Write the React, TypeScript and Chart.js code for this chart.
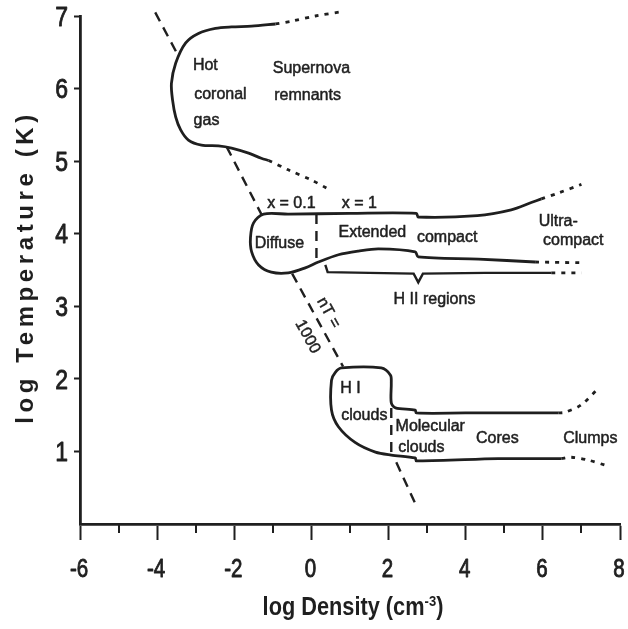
import React, { useEffect, useRef } from "react";
import { Chart, registerables } from "chart.js";

Chart.register(...registerables);

// ---------- axis ticks ----------
const xMajorTicks = [-6, -4, -2, 0, 2, 4, 6, 8];
const xMinorTicks = [-5, -3, -1, 1, 3, 5, 7];
const yTickValues = [1, 2, 3, 4, 5, 6, 7];

// ---------- nT = 1000 line (dashed, in pieces) ----------
const nT1X = [-4.05, -3.45];
const nT1Y = [7.05, 6.45];
const nT2X = [-2.2, -1.28];
const nT2Y = [5.2, 4.25];
const nT3X = [-0.5, 0.82];
const nT3Y = [3.45, 2.17];
const nT4X = [2.2, 2.72];
const nT4Y = [0.85, 0.25];

// ---------- hot coronal gas ----------
const hotX = [-0.93, -1.55, -2.07, -2.49, -2.93, -3.26, -3.52, -3.63, -3.6, -3.52, -3.39, -3.19, -2.85, -2.41, -2.07, -1.63, -1.3, -1.11];
const hotY = [6.89, 6.86, 6.85, 6.83, 6.76, 6.63, 6.35, 6.07, 5.84, 5.61, 5.43, 5.29, 5.22, 5.21, 5.18, 5.11, 5.04, 5.01];
const snrTopX = [-0.93, -0.5, 0.1, 0.8];
const snrTopY = [6.89, 6.93, 7.0, 7.06];
const snrBotX = [-1.11, -0.6, 0.0, 0.39];
const snrBotY = [5.01, 4.88, 4.74, 4.63];

// ---------- H II regions ----------
const hiiX = [5.96, 5.7, 5.18, 4.3, 2.77, 2.72, 1.0, -0.6, -1.24, -1.5, -1.58, -1.55, -1.37, -1.04, -0.6, -0.16, 0.18, 0.7, 1.22, 1.74, 2.69, 2.77, 4.33, 5.8];
const hiiY = [4.48, 4.43, 4.33, 4.25, 4.23, 4.28, 4.28, 4.27, 4.27, 4.15, 3.95, 3.75, 3.57, 3.47, 3.46, 3.53, 3.61, 3.71, 3.76, 3.79, 3.75, 3.68, 3.65, 3.61];
const ucTopX = [5.96, 6.4, 7.0];
const ucTopY = [4.48, 4.56, 4.68];
const ucBotX = [5.8, 7.0];
const ucBotY = [3.61, 3.6];
const xSplitX = [0.13, 0.13];
const xSplitY = [4.27, 3.59];
const braceX = [0.36, 0.42, 1.5, 2.65, 2.77, 2.89, 4.5, 6.22];
const braceY = [3.57, 3.47, 3.46, 3.45, 3.33, 3.45, 3.46, 3.46];
const braceExtX = [6.22, 7.0];
const braceExtY = [3.46, 3.46];

// ---------- H I / molecular clouds ----------
const hiX = [6.4, 3.99, 2.72, 2.69, 2.18, 2.07, 2.07, 2.05, 1.81, 0.78, 0.62, 0.52, 0.52, 0.7, 1.14, 1.66, 2.07, 2.69, 2.72, 4.84, 6.48];
const hiY = [1.53, 1.53, 1.53, 1.57, 1.6, 1.67, 1.94, 2.05, 2.15, 2.15, 2.09, 1.98, 1.57, 1.34, 1.12, 0.99, 0.95, 0.91, 0.87, 0.9, 0.9];
const clumpTopX = [6.4, 6.58, 6.99, 7.44];
const clumpTopY = [1.53, 1.54, 1.64, 1.87];
const clumpBotX = [6.48, 6.74, 7.18, 7.62];
const clumpBotY = [0.9, 0.92, 0.88, 0.81];
const molSplitX = [2.07, 2.07];
const molSplitY = [1.6, 0.95];

// ---------- labels (text, anchor in data units, angle in degrees) ----------
const labelTexts = ["Hot", "coronal", "gas", "Supernova", "remnants", "x = 0.1", "x = 1", "Diffuse", "Extended", "compact", "Ultra-", "compact", "H II regions", "nT =", "1000", "H I", "clouds", "Molecular", "clouds", "Cores", "Clumps"];
const labelX = [-2.75, -2.36, -2.72, 0.0, -0.1, -0.52, 1.24, -0.83, 1.58, 3.52, 6.4, 6.79, 3.19, 0.44, -0.1, 1.01, 1.37, 3.08, 2.85, 4.82, 7.23];
const labelY = [6.32, 5.92, 5.56, 6.28, 5.91, 4.42, 4.42, 3.87, 4.01, 3.95, 4.17, 3.91, 3.09, 2.91, 2.58, 1.87, 1.5, 1.34, 1.05, 1.17, 1.18];
const labelAngle = [0, 0, 0, 0, 0, 0, 0, 0, 0, 0, 0, 0, 0, 61, 61, 0, 0, 0, 0, 0, 0];

const xTitle = "log Density (cm";
const xTitleSup = "-3";
const yTitle = "log Temperature (K)";

const INK = "#1f1f1f";
const FONT = '"Liberation Sans", Arial, sans-serif';

const zip = (xs: number[], ys: number[]) => xs.map((x, i) => ({ x, y: ys[i] }));

const solid = (xs: number[], ys: number[]) => ({
  data: zip(xs, ys),
  borderColor: INK,
  borderWidth: 2.8,
  tension: 0.3,
});
const dashed = (xs: number[], ys: number[]) => ({
  data: zip(xs, ys),
  borderColor: INK,
  borderWidth: 2.4,
  borderDash: [10, 7],
  tension: 0,
  clip: false as any,
});
const dotted = (xs: number[], ys: number[]) => ({
  data: zip(xs, ys),
  borderColor: INK,
  borderWidth: 2.8,
  borderDash: [4, 6],
  tension: 0.3,
  clip: false as any,
});

// fill text with a thin outline so it reads as heavy as the scanned original
const heavyText = (ctx: CanvasRenderingContext2D, t: string, x: number, y: number, w: number) => {
  ctx.lineWidth = w;
  ctx.lineJoin = "round";
  ctx.strokeText(t, x, y);
  ctx.fillText(t, x, y);
};

const overlayPlugin = {
  id: "overlay",
  afterDraw(chart: any) {
    const { ctx, chartArea } = chart;
    const xs = chart.scales.x;
    const ys = chart.scales.y;
    ctx.save();
    // minor ticks on x axis
    ctx.strokeStyle = INK;
    ctx.lineWidth = 2;
    xMinorTicks.forEach((v) => {
      const px = Math.round(xs.getPixelForValue(v));
      ctx.beginPath();
      ctx.moveTo(px, chartArea.bottom);
      ctx.lineTo(px, chartArea.bottom + 9);
      ctx.stroke();
    });
    ctx.fillStyle = INK;
    ctx.strokeStyle = INK;
    // x tick labels (condensed)
    ctx.font = `25px ${FONT}`;
    ctx.textAlign = "center";
    ctx.textBaseline = "middle";
    xMajorTicks.forEach((v) => {
      const px = xs.getPixelForValue(v);
      ctx.save();
      ctx.translate(px - 1, chartArea.bottom + 46);
      ctx.scale(0.82, 1);
      heavyText(ctx, String(v), 0, 0, 0.9);
      ctx.restore();
    });
    // y tick labels (condensed)
    ctx.font = `28px ${FONT}`;
    ctx.textAlign = "right";
    yTickValues.forEach((v) => {
      const py = ys.getPixelForValue(v);
      ctx.save();
      ctx.translate(chartArea.left - 12, py + 2);
      ctx.scale(0.82, 1);
      heavyText(ctx, String(v), 0, 0, 0.9);
      ctx.restore();
    });
    // annotations
    ctx.font = `16px ${FONT}`;
    ctx.textAlign = "center";
    ctx.textBaseline = "middle";
    labelTexts.forEach((t, i) => {
      const px = xs.getPixelForValue(labelX[i]);
      const py = ys.getPixelForValue(labelY[i]);
      ctx.save();
      ctx.translate(px, py);
      ctx.rotate((labelAngle[i] * Math.PI) / 180);
      heavyText(ctx, t, 0, 0, 0.5);
      ctx.restore();
    });
    // x title (condensed, with superscript)
    const cx = (chartArea.left + chartArea.right) / 2;
    ctx.textAlign = "left";
    ctx.textBaseline = "alphabetic";
    const big = `bold 25px ${FONT}`;
    const small = `bold 15px ${FONT}`;
    ctx.font = big;
    const w1 = ctx.measureText(xTitle).width;
    const w3 = ctx.measureText(")").width;
    ctx.font = small;
    const w2 = ctx.measureText(xTitleSup).width;
    const sx = 0.87;
    const total = (w1 + w2 + w3) * sx;
    ctx.save();
    ctx.translate(cx - total / 2 + 3, 615);
    ctx.scale(sx, 1);
    ctx.font = big;
    ctx.fillText(xTitle, 0, 0);
    ctx.font = small;
    ctx.fillText(xTitleSup, w1, -9);
    ctx.font = big;
    ctx.fillText(")", w1 + w2, 0);
    ctx.restore();
    // y title
    ctx.save();
    const cy = (chartArea.top + chartArea.bottom) / 2 - 3;
    ctx.translate(26, cy);
    ctx.rotate(-Math.PI / 2);
    ctx.font = `bold 24px ${FONT}`;
    (ctx as any).letterSpacing = "4.6px";
    ctx.textAlign = "center";
    ctx.textBaseline = "middle";
    ctx.fillText(yTitle, 0, 0);
    ctx.restore();
    ctx.restore();
  },
};

export default function App() {
  const ref = useRef<HTMLCanvasElement>(null);
  useEffect(() => {
    if (!ref.current) return;
    const chart = new Chart(ref.current, {
      type: "scatter",
      data: {
        datasets: [
          dashed(nT1X, nT1Y),
          dashed(nT2X, nT2Y),
          dashed(nT3X, nT3Y),
          dashed(nT4X, nT4Y),
          solid(hotX, hotY),
          dotted(snrTopX, snrTopY),
          dotted(snrBotX, snrBotY),
          solid(hiiX, hiiY),
          dotted(ucTopX, ucTopY),
          dotted(ucBotX, ucBotY),
          dashed(xSplitX, xSplitY),
          { ...solid(braceX, braceY), tension: 0, borderWidth: 2.4 },
          dotted(braceExtX, braceExtY),
          solid(hiX, hiY),
          dotted(clumpTopX, clumpTopY),
          dotted(clumpBotX, clumpBotY),
          dashed(molSplitX, molSplitY),
        ] as any,
      },
      options: {
        animation: false,
        responsive: false,
        showLine: true,
        elements: { point: { radius: 0, hoverRadius: 0 }, line: { fill: false } },
        layout: { padding: { top: 16, right: 8, left: 0, bottom: 0 } },
        plugins: { legend: { display: false }, tooltip: { enabled: false } },
        scales: {
          x: {
            type: "linear",
            min: -6,
            max: 8,
            afterFit: (s: any) => {
              s.height = 105;
            },
            afterBuildTicks: (s: any) => {
              s.ticks = xMajorTicks.map((v) => ({ value: v }));
            },
            ticks: { display: false },
            grid: { drawOnChartArea: false, drawTicks: true, tickLength: 16, tickWidth: 2, tickColor: INK },
            border: { display: true, color: INK, width: 2.8 },
          },
          y: {
            type: "linear",
            min: 0,
            max: 7,
            afterFit: (s: any) => {
              s.width = 80;
            },
            afterBuildTicks: (s: any) => {
              s.ticks = yTickValues.map((v) => ({ value: v }));
            },
            ticks: { display: false },
            grid: { drawOnChartArea: false, drawTicks: true, tickLength: 6, tickWidth: 2, tickColor: INK },
            border: { display: true, color: INK, width: 2.8 },
          },
        },
      },
      plugins: [overlayPlugin],
    });
    return () => chart.destroy();
  }, []);
  return (
    <div style={{ position: "fixed", left: 0, top: 0, width: 628, height: 629, background: "#fff" }}>
      <canvas ref={ref} width={628} height={629} style={{ width: 628, height: 629, display: "block" }} />
    </div>
  );
}
